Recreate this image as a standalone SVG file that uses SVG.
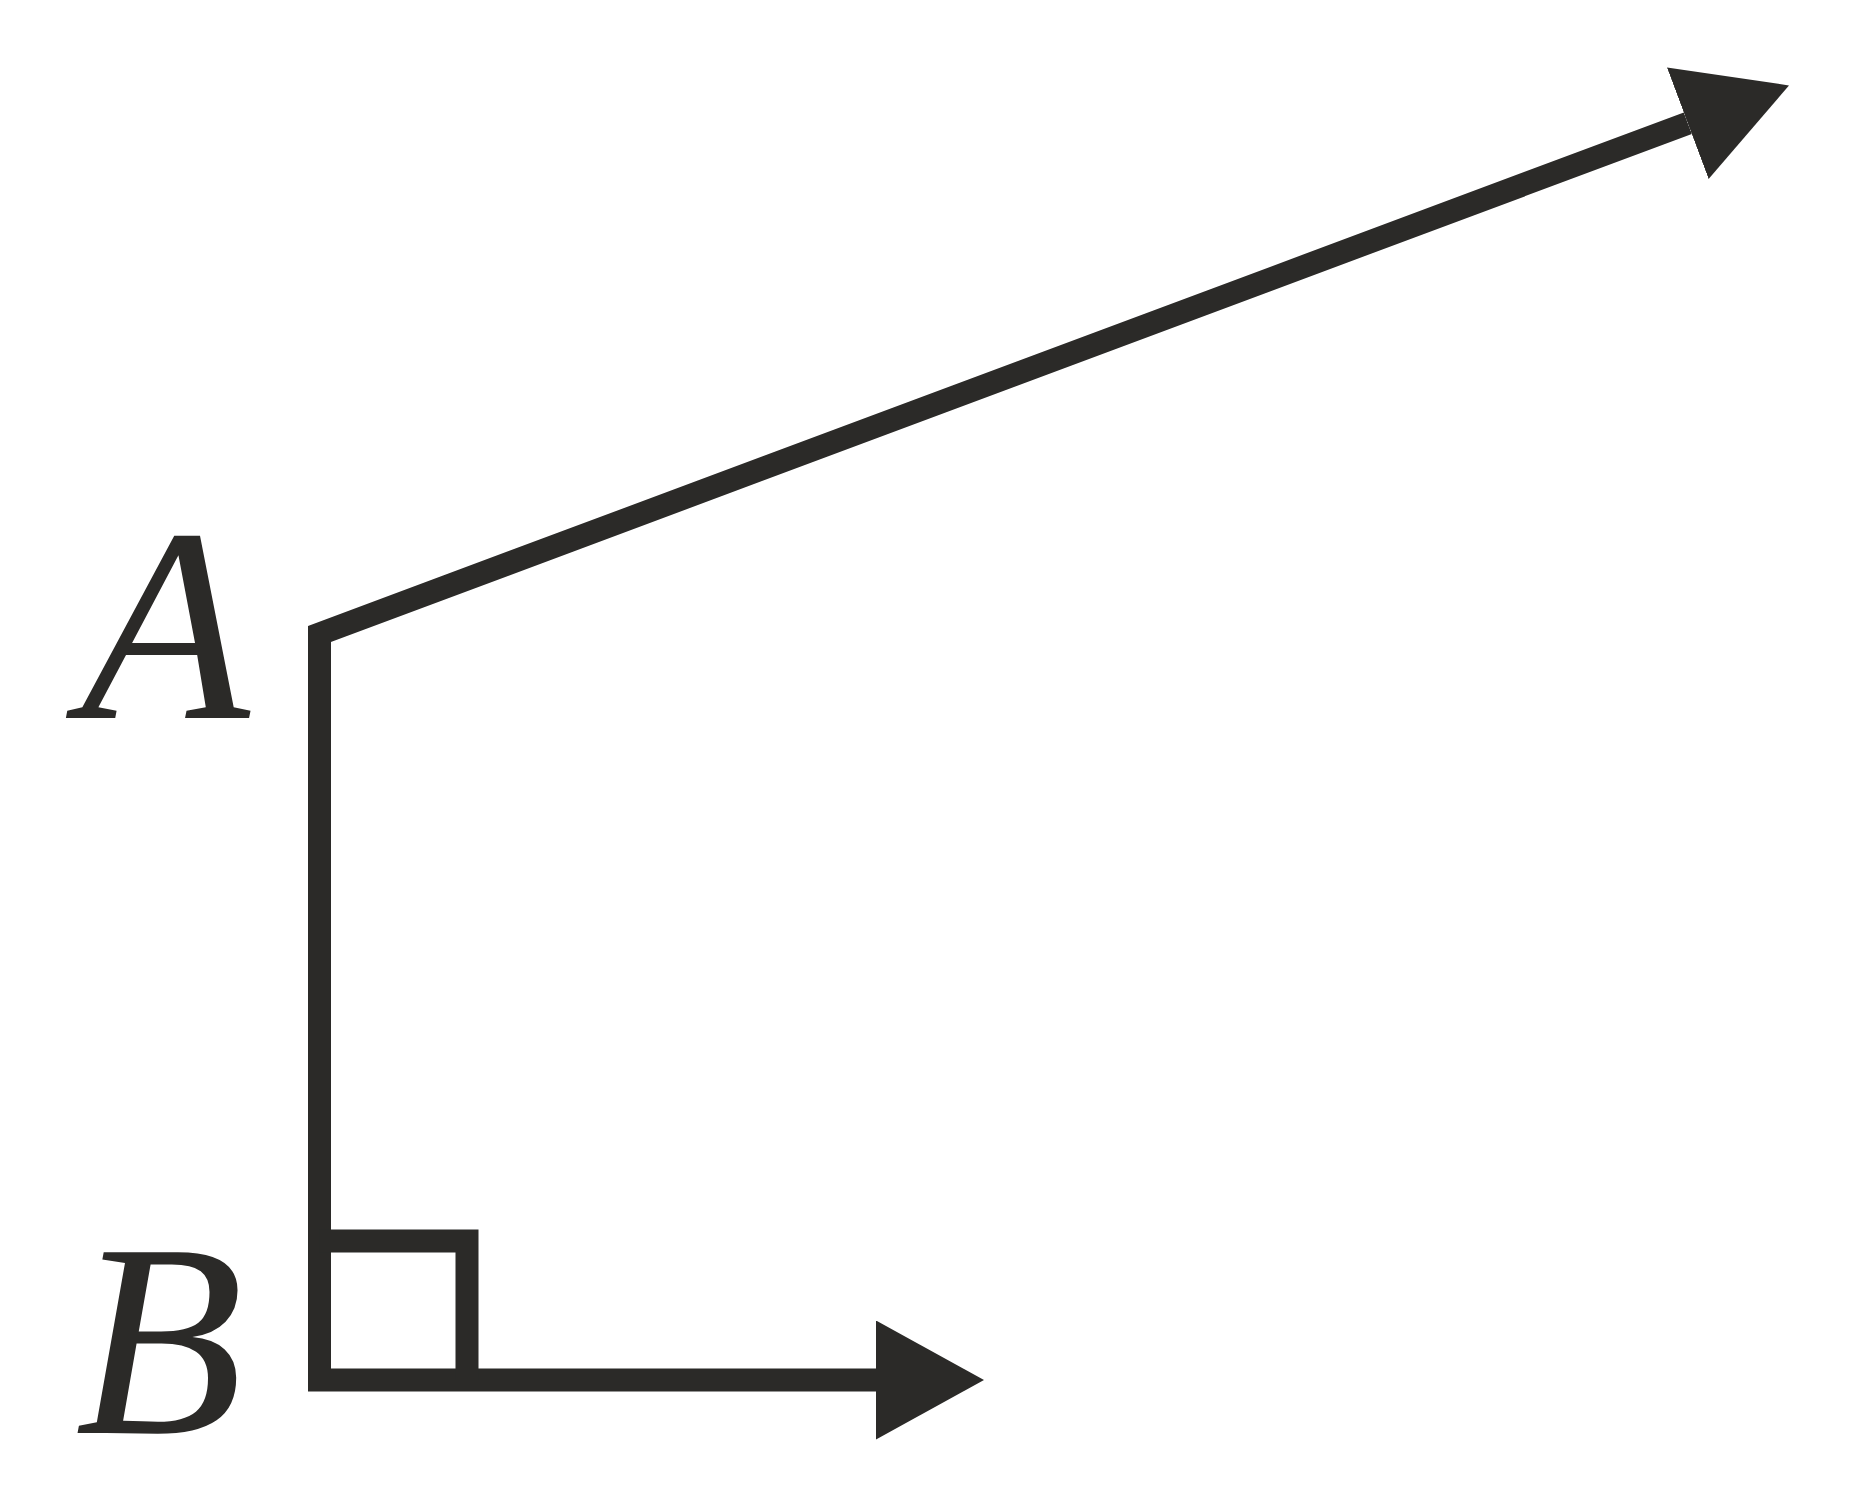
<svg xmlns="http://www.w3.org/2000/svg" width="1853" height="1500" viewBox="0 0 1853 1500">
<style>
.ln{fill:none;stroke:#2b2a28;stroke-width:23;stroke-linejoin:miter;stroke-miterlimit:10;stroke-linecap:butt}
.lbl{font-family:"Liberation Serif","Times New Roman",serif;font-style:italic;font-size:276px;fill:#2b2a28}
</style>
<defs>
<marker id="ah" markerUnits="userSpaceOnUse" viewBox="0 0 108 119" refX="0" refY="59.5" markerWidth="108" markerHeight="119" orient="auto-start-reverse">
<path d="M0,0 L108,59.5 L0,119 Z" fill="#2b2a28"/>
</marker>
</defs>
<rect width="1853" height="1500" fill="#ffffff"/>
<g id="connectors">
<path id="angle" class="ln" d="M1687.8,123.2 L319.5,634 L319.5,1380 L876,1380" marker-start="url(#ah)" marker-end="url(#ah)"/>
<path id="right-angle-mark" class="ln" d="M319.5,1241 L467,1241 L467,1380"/>
</g>
<g id="A"><text class="lbl" x="81" y="718">A</text></g>
<g id="B"><text class="lbl" x="75" y="1433">B</text></g>
</svg>
